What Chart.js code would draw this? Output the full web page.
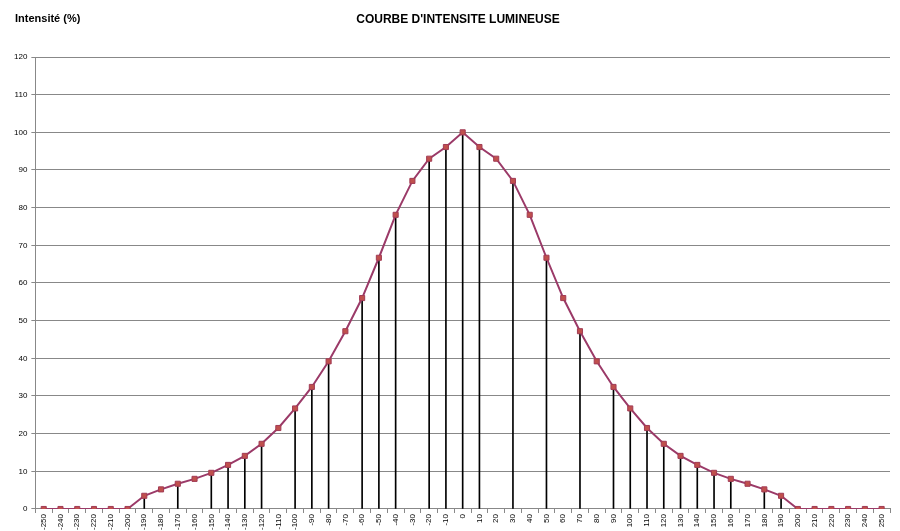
<!DOCTYPE html>
<html>
<head>
<meta charset="utf-8">
<script src="https://cdn.jsdelivr.net/npm/chart.js@4"></script>
<style>
  html, body { margin: 0; padding: 0; background: #fff; }
  #wrap { width: 900px; height: 531px; position: relative; }
</style>
</head>
<body>
<div id="wrap"><canvas id="courbe"></canvas></div>
<script>
// angles (degrés) et intensité relative (%)
const angles = [-250, -240, -230, -220, -210, -200, -190, -180, -170, -160, -150, -140, -130, -120, -110, -100,
    -90, -80, -70, -60, -50, -40, -30, -20, -10, 0, 10, 20, 30, 40, 50, 60, 70, 80, 90,
    100, 110, 120, 130, 140, 150, 160, 170, 180, 190, 200, 210, 220, 230, 240, 250];
const intensite = [0, 0, 0, 0, 0, 0, 3.5, 5.2, 6.7, 8, 9.6, 11.7, 14.1, 17.3, 21.5, 26.7,
    32.4, 39.2, 47.2, 56, 66.7, 78.1, 87.1, 93, 96.1, 100, 96.1, 93, 87.1, 78.1, 66.7, 56, 47.2, 39.2, 32.4,
    26.7, 21.5, 17.3, 14.1, 11.7, 9.6, 8, 6.7, 5.2, 3.5, 0, 0, 0, 0, 0, 0];
// angles qui ont un trait vertical jusqu'à l'axe
const traits = [-190, -170, -150, -140, -130, -120, -100, -90, -80, -60, -50, -40, -20, -10, 0, 10, 30, 50, 70,
    90, 100, 110, 120, 130, 140, 150, 160, 180, 190];

const titre = "COURBE D'INTENSITE LUMINEUSE";
const titreAxe = "Intensité (%)";

const traitsData = angles.map((a, i) => traits.includes(a) ? intensite[i] : null);

// textes du haut
const textesHaut = {
    id: "textesHaut",
    afterDraw(chart) {
        const ctx = chart.ctx;
        ctx.save();
        ctx.fillStyle = "#000";
        ctx.textBaseline = "middle";
        ctx.font = "bold 11px 'Liberation Sans', Arial, sans-serif";
        ctx.textAlign = "left";
        ctx.fillText(titreAxe, 15, 19);
        ctx.font = "bold 12px 'Liberation Sans', Arial, sans-serif";
        ctx.textAlign = "center";
        ctx.fillText(titre, 458, 20);
        ctx.restore();
    }
};

new Chart(document.getElementById("courbe"), {
    data: {
        labels: angles,
        datasets: [{
            type: "line",
            data: intensite,
            borderColor: "#9b3a68",
            borderWidth: 2,
            pointStyle: "rect",
            pointRadius: 3.6,
            pointBackgroundColor: "#c0504d",
            pointBorderColor: "#a23b55",
            pointBorderWidth: 1,
            tension: 0,
            order: 0
        }, {
            type: "bar",
            data: traitsData,
            backgroundColor: "#000",
            barThickness: 1,
            order: 1
        }]
    },
    options: {
        responsive: true,
        maintainAspectRatio: false,
        animation: false,
        layout: { padding: { top: 57, right: 10, left: 10, bottom: 0 } },
        plugins: {
            legend: { display: false },
            tooltip: { enabled: false },
            title: { display: false }
        },
        scales: {
            x: {
                offset: true,
                grid: {
                    offset: true,
                    drawOnChartArea: false,
                    color: "#888",
                    tickLength: 4
                },
                border: { color: "#888" },
                ticks: {
                    autoSkip: false,
                    minRotation: 90,
                    maxRotation: 90,
                    padding: 1,
                    color: "#000",
                    font: { family: "'Liberation Sans', Arial, sans-serif", size: 8 }
                }
            },
            y: {
                min: 0,
                max: 120,
                ticks: {
                    stepSize: 10,
                    padding: 4,
                    color: "#000",
                    font: { family: "'Liberation Sans', Arial, sans-serif", size: 8 }
                },
                grid: { color: "#888", tickLength: 4 },
                border: { color: "#888" }
            }
        }
    },
    plugins: [textesHaut]
});
</script>
</body>
</html>
